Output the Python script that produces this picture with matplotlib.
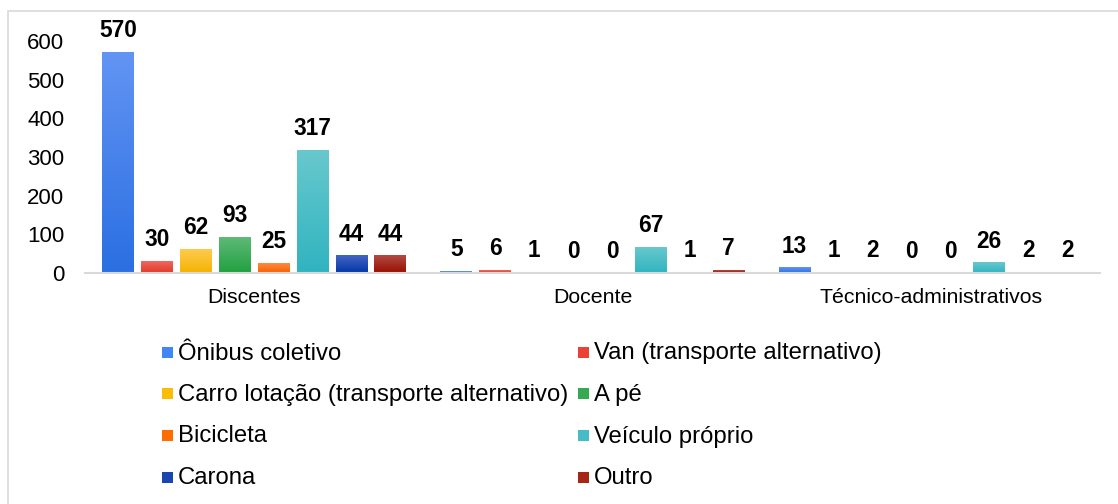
import numpy as np
import matplotlib
matplotlib.use("Agg")
import matplotlib.pyplot as plt
from matplotlib.colors import LinearSegmentedColormap
from matplotlib.patches import Rectangle

plt.rcParams['font.family'] = ['Liberation Sans', 'DejaVu Sans']

categories = ["Discentes", "Docente", "Técnico-administrativos"]
series = ["Ônibus coletivo", "Van (transporte alternativo)",
          "Carro lotação (transporte alternativo)", "A pé", "Bicicleta",
          "Veículo próprio", "Carona", "Outro"]
onibus = [570, 5, 13]
van = [30, 6, 1]
carro = [62, 1, 2]
ape = [93, 0, 0]
bicicleta = [25, 0, 0]
veiculo = [317, 67, 26]
carona = [44, 1, 2]
outro = [44, 7, 2]
values = [onibus, van, carro, ape, bicicleta, veiculo, carona, outro]

base_colors = ["#4285F4", "#EA4335", "#FBBC04", "#34A853", "#FF6D01",
               "#46BDC6", "#1A46B0", "#A52714"]
grad = [("#6294F3", "#2B6FE2"), ("#F2675C", "#E0392B"), ("#FFCB50", "#F4B300"),
        ("#5DBA77", "#22A040"), ("#FF8B40", "#F86000"), ("#68C8CD", "#30B4C0"),
        ("#4466C2", "#0036A8"), ("#B24B45", "#980E00")]

W, H = 1118, 504
fig = plt.figure(figsize=(W / 100, H / 100), dpi=100)
ax = fig.add_axes([85 / W, 1 - 273 / H, (1100 - 85) / W, (273 - 41) / H])

n = len(series)
slot = 0.115
bw = 0.094
x = np.arange(len(categories))
gimg = np.linspace(1, 0, 64).reshape(-1, 1)
for i, (name, vals) in enumerate(zip(series, values)):
    pos = x + (i - (n - 1) / 2) * slot
    bars = ax.bar(pos, vals, width=bw, color=base_colors[i], zorder=2, label=name)
    cmap = LinearSegmentedColormap.from_list("g%d" % i, [grad[i][1], grad[i][0]])
    for b, v in zip(bars, vals):
        if v > 0:
            ax.imshow(gimg, cmap=cmap, extent=[b.get_x(), b.get_x() + b.get_width(), 0, v],
                      aspect='auto', zorder=3, interpolation='bilinear')
        ax.annotate(str(v), (b.get_x() + b.get_width() / 2, v), xytext=(0, 11),
                    textcoords='offset points', ha='center', va='baseline',
                    fontsize=16.3, fontweight='bold', color='black', zorder=4)

ax.set_xlim(-0.5, len(categories) - 0.5)
ax.set_ylim(0, 600)
ax.set_yticks(range(0, 601, 100))
ax.set_xticks(x)
ax.set_xticklabels(categories)
ax.tick_params(axis='y', length=0, pad=15, labelsize=16)
ax.tick_params(axis='x', length=0, pad=10.5, labelsize=15.3)
for s in ['top', 'right', 'left']:
    ax.spines[s].set_visible(False)
ax.spines['bottom'].set_color('#D9D9D9')
ax.spines['bottom'].set_linewidth(1.5)
ax.spines['bottom'].set_zorder(5)

# legend (two columns, row-wise order)
col_x = [162, 578]
row_y = [351, 392, 434, 476]
msz = 11
for i, name in enumerate(series):
    cx = col_x[i % 2]
    cy = row_y[i // 2]
    fig.patches.append(Rectangle((cx / W, 1 - (cy + 1 + msz / 2) / H), msz / W, msz / H,
                                 transform=fig.transFigure, facecolor=base_colors[i],
                                 edgecolor='none'))
    fig.text((cx + msz + 5) / W, 1 - (cy + 8.5) / H, name, ha='left', va='baseline',
             fontsize=17.2, color='black')

# outer border
fig.patches.append(Rectangle((8 / W, -0.05), 1.2, 1 - 11 / H + 0.05,
                             transform=fig.transFigure, facecolor='none',
                             edgecolor='#D9D9D9', linewidth=1.2))

fig.savefig("out.png", dpi=100)
